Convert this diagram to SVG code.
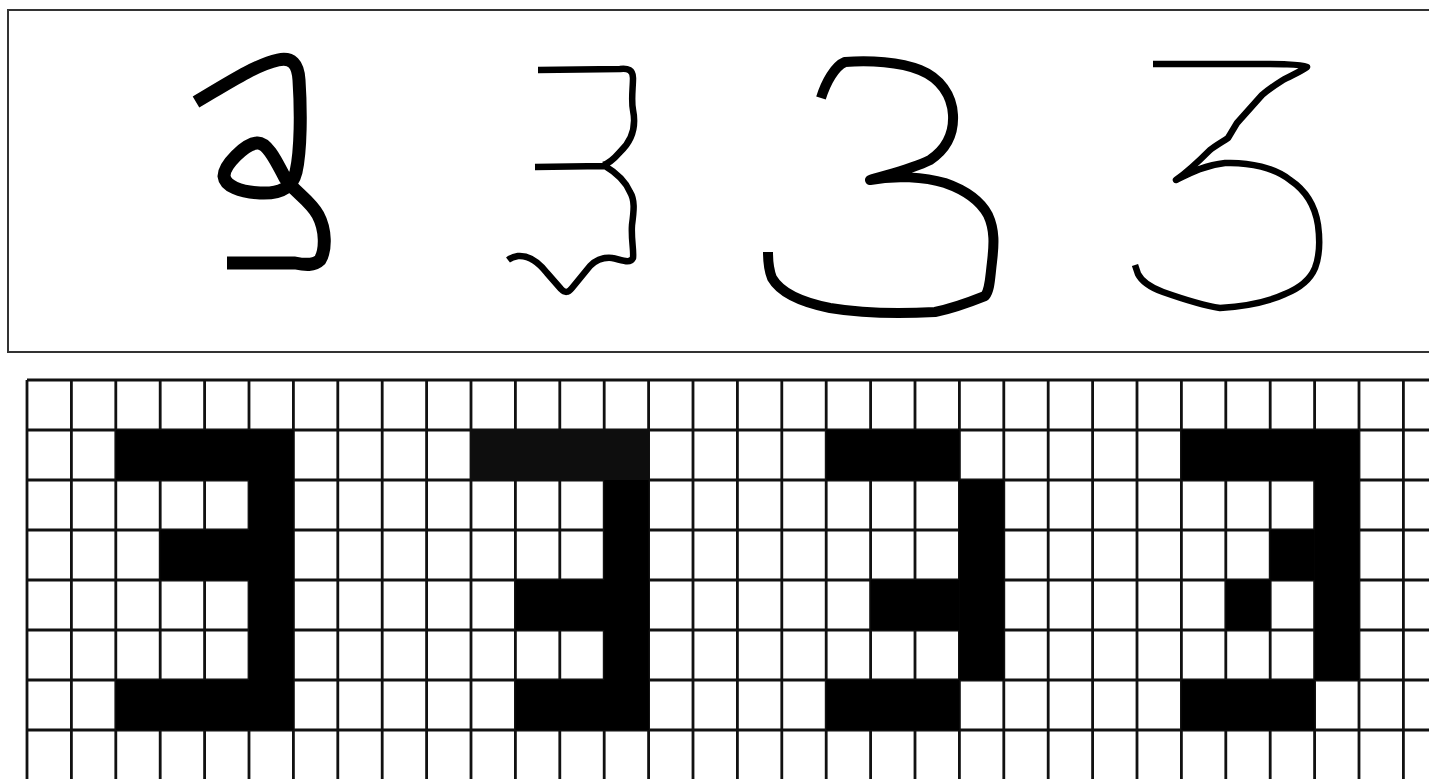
<svg xmlns="http://www.w3.org/2000/svg" width="1429" height="779" viewBox="0 0 1429 779">
<style>
.ink{fill:none;stroke:#000;stroke-linejoin:round;stroke-linecap:butt}
.thick{stroke-width:13}
.mid{stroke-width:10}
.thin{stroke-width:6.5}
.on{fill:#000}
.dim{fill:#0e0e0e}
.grid{stroke:#111;stroke-width:2.8;fill:none}
</style>
<rect x="0" y="0" width="1429" height="779" fill="#fff"/>
<g id="handwritten-panel">
<rect x="8" y="10" width="1440" height="342" fill="#fff" stroke="#333" stroke-width="2"/>
<path id="digit-a" class="ink thick" d="M196,102 C225,85 255,65 278,60 C292,57 298,64 299,80 C301,110 301,150 296,172 C292,188 280,194 260,193 C240,192 225,186 224,176 C224,165 245,144 257,143 C268,142 278,165 285,178 C292,190 310,200 318,215 C326,230 326,250 320,260 C314,266 305,265 295,263 L227,263"/>
<path id="digit-b" class="ink thin" d="M538,70 L620,69 C628,68 633,70 633,78 C633,88 631,100 633,110 C636,125 633,140 620,152 C613,160 608,164 603,165 M535,167 L605,166 C615,172 625,180 630,192 C635,200 634,210 632,225 C631,240 634,250 633,258 C630,264 622,260 612,258 C602,257 596,260 590,266 L572,288 C568,293 565,293 561,289 L547,273 C540,264 530,255 518,256 C512,257 508,260 508,260"/>
<path id="digit-c" class="ink mid" d="M821,98 C826,82 835,66 845,62 C870,60 900,62 920,70 C940,78 952,95 953,115 C954,135 945,150 930,160 C910,170 885,175 870,180 C895,175 925,177 945,183 C965,190 980,200 988,215 C995,230 994,245 992,262 C990,278 990,290 985,296 C970,302 955,308 935,312 C900,314 860,313 830,308 C800,302 780,292 772,278 C768,268 768,258 768,252"/>
<path id="digit-d" class="ink thin" d="M1153,64 L1250,64 C1280,64 1300,64 1307,67 C1300,72 1290,76 1283,80 C1275,85 1268,90 1262,95 L1237,123 L1228,138 C1222,142 1215,146 1210,150 C1200,160 1190,170 1176,180 C1190,173 1205,165 1225,163 C1250,162 1275,168 1290,180 C1305,190 1315,205 1318,225 C1320,240 1320,255 1315,268 C1310,280 1300,288 1285,294 C1270,301 1250,306 1220,308 C1200,305 1180,298 1163,292 C1152,288 1142,282 1138,274 L1135,265"/>
</g>
<g id="pixel-grid">
<path id="grid-lines" class="grid" d="M27,380 H1429 M27,430 H1429 M27,480 H1429 M27,530 H1429 M27,580 H1429 M27,630 H1429 M27,680 H1429 M27,730 H1429 M27,380 V779 M71.4,380 V779 M115.8,380 V779 M160.2,380 V779 M204.6,380 V779 M249,380 V779 M293.4,380 V779 M337.8,380 V779 M382.2,380 V779 M426.6,380 V779 M471,380 V779 M515.4,380 V779 M559.8,380 V779 M604.2,380 V779 M648.6,380 V779 M693,380 V779 M737.4,380 V779 M781.8,380 V779 M826.2,380 V779 M870.6,380 V779 M915,380 V779 M959.4,380 V779 M1003.8,380 V779 M1048.2,380 V779 M1092.6,380 V779 M1137,380 V779 M1181.4,380 V779 M1225.8,380 V779 M1270.2,380 V779 M1314.6,380 V779 M1359,380 V779 M1403.4,380 V779"/>
<g id="cells-a">
<rect class="on" x="115.8" y="430" width="177.6" height="50"/>
<rect class="on" x="249" y="430" width="44.4" height="300"/>
<rect class="on" x="160.2" y="530" width="133.2" height="50"/>
<rect class="on" x="115.8" y="680" width="177.6" height="50"/>
</g>
<g id="cells-b">
<rect class="dim" x="471" y="430" width="177.6" height="50"/>
<rect class="on" x="604.2" y="480" width="44.4" height="250"/>
<rect class="on" x="515.4" y="580" width="133.2" height="50"/>
<rect class="on" x="515.4" y="680" width="133.2" height="50"/>
</g>
<g id="cells-c">
<rect class="on" x="826.2" y="430" width="133.2" height="50"/>
<rect class="on" x="959.4" y="480" width="44.4" height="200"/>
<rect class="on" x="870.6" y="580" width="88.8" height="50"/>
<rect class="on" x="826.2" y="680" width="133.2" height="50"/>
</g>
<g id="cells-d">
<rect class="on" x="1181.4" y="430" width="177.6" height="50"/>
<rect class="on" x="1314.6" y="480" width="44.4" height="200"/>
<rect class="on" x="1270.2" y="530" width="44.4" height="50"/>
<rect class="on" x="1225.8" y="580" width="44.4" height="50"/>
<rect class="on" x="1181.4" y="680" width="133.2" height="50"/>
</g>
</g>
</svg>
